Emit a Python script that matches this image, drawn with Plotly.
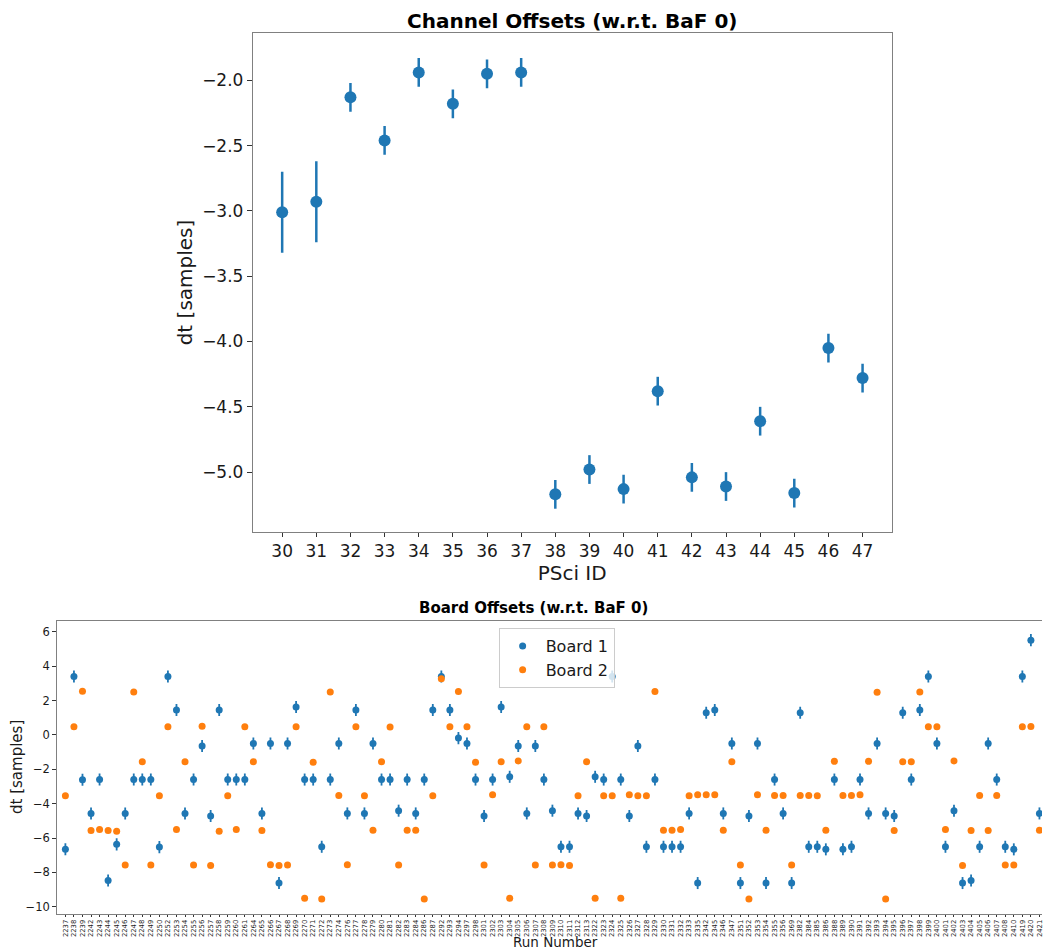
import plotly.graph_objects as go

# ---- Channel offsets per PSci channel ----
psci_id = [30, 31, 32, 33, 34, 35, 36, 37, 38, 39, 40, 41, 42, 43, 44, 45, 46, 47]
chan_dt = [-3.01, -2.93, -2.13, -2.46, -1.94, -2.18, -1.95, -1.94, -5.17,
           -4.98, -5.13, -4.38, -5.04, -5.11, -4.61, -5.16, -4.05, -4.28]
chan_err = [0.31, 0.31, 0.11, 0.11, 0.11, 0.11, 0.11, 0.11, 0.11,
            0.11, 0.11, 0.11, 0.11, 0.11, 0.11, 0.11, 0.11, 0.11]

# ---- Board offsets per run ----
runs = [2237, 2238, 2239, 2242, 2243, 2244, 2245, 2246, 2247, 2248,
        2249, 2250, 2252, 2253, 2254, 2255, 2256, 2257, 2258, 2259,
        2260, 2261, 2264, 2265, 2266, 2267, 2268, 2269, 2270, 2271,
        2272, 2273, 2274, 2276, 2277, 2278, 2279, 2280, 2281, 2282,
        2283, 2284, 2286, 2287, 2292, 2293, 2294, 2297, 2298, 2301,
        2302, 2303, 2304, 2305, 2306, 2307, 2308, 2309, 2310, 2311,
        2312, 2313, 2322, 2323, 2324, 2325, 2326, 2327, 2328, 2329,
        2330, 2331, 2332, 2333, 2335, 2342, 2345, 2346, 2347, 2351,
        2352, 2353, 2354, 2355, 2356, 2369, 2382, 2384, 2385, 2386,
        2388, 2389, 2390, 2391, 2392, 2393, 2394, 2395, 2396, 2397,
        2398, 2399, 2400, 2401, 2402, 2403, 2404, 2405, 2406, 2407,
        2408, 2410, 2419, 2420, 2421]

board1_dt = [-6.66, 3.40, -2.61, -4.57, -2.60, -8.47, -6.37, -4.57, -2.60, -2.60,
             -2.60, -6.53, 3.40, 1.44, -4.57, -2.60, -0.65, -4.72, 1.44, -2.60,
             -2.60, -2.60, -0.50, -4.57, -0.50, -8.62, -0.50, 1.62, -2.60, -2.60,
             -6.51, -2.60, -0.50, -4.57, 1.44, -4.57, -0.50, -2.60, -2.60, -4.41,
             -2.60, -4.57, -2.60, 1.44, 3.40, 1.44, -0.19, -0.50, -2.60, -4.72,
             -2.60, 1.62, -2.44, -0.65, -4.57, -0.65, -2.60, -4.41, -6.51, -6.51,
             -4.57, -4.72, -2.44, -2.60, 3.40, -2.60, -4.72, -0.65, -6.51, -2.60,
             -6.51, -6.51, -6.51, -4.57, -8.62, 1.29, 1.44, -4.57, -0.50, -8.62,
             -4.72, -0.50, -8.62, -2.60, -4.57, -8.62, 1.29, -6.51, -6.51, -6.66,
             -2.60, -6.66, -6.51, -2.60, -4.57, -0.50, -4.57, -4.72, 1.29, -2.60,
             1.44, 3.40, -0.50, -6.51, -4.41, -8.62, -8.47, -6.51, -0.50, -2.60,
             -6.51, -6.66, 3.40, 5.51, -4.57]
board1_err = [0.35, 0.35, 0.35, 0.35, 0.35, 0.35, 0.35, 0.35, 0.35, 0.35,
              0.35, 0.35, 0.35, 0.35, 0.35, 0.35, 0.35, 0.35, 0.35, 0.35,
              0.35, 0.35, 0.35, 0.35, 0.35, 0.35, 0.35, 0.35, 0.35, 0.35,
              0.35, 0.35, 0.35, 0.35, 0.35, 0.35, 0.35, 0.35, 0.35, 0.35,
              0.35, 0.35, 0.35, 0.35, 0.35, 0.35, 0.35, 0.35, 0.35, 0.35,
              0.35, 0.35, 0.35, 0.35, 0.35, 0.35, 0.35, 0.35, 0.35, 0.35,
              0.35, 0.35, 0.35, 0.35, 0.35, 0.35, 0.35, 0.35, 0.35, 0.35,
              0.35, 0.35, 0.35, 0.35, 0.35, 0.35, 0.35, 0.35, 0.35, 0.35,
              0.35, 0.35, 0.35, 0.35, 0.35, 0.35, 0.35, 0.35, 0.35, 0.35,
              0.35, 0.35, 0.35, 0.35, 0.35, 0.35, 0.35, 0.35, 0.35, 0.35,
              0.35, 0.35, 0.35, 0.35, 0.35, 0.35, 0.35, 0.35, 0.35, 0.35,
              0.35, 0.35, 0.35, 0.35, 0.35]

board2_dt = [-3.54, 0.47, 2.53, -5.56, -5.50, -5.56, -5.60, -7.57, 2.50, -1.56,
             -7.57, -3.54, 0.47, -5.50, -1.56, -7.57, 0.50, -7.60, -5.60, -3.54,
             -5.50, 0.47, -1.56, -5.56, -7.55, -7.60, -7.57, 0.47, -9.51, -1.60,
             -9.55, 2.50, -3.53, -7.55, 0.47, -3.54, -5.55, -1.56, 0.45, -7.57,
             -5.55, -5.55, -9.55, -3.54, 3.27, 0.47, 2.52, 0.47, -1.60, -7.57,
             -3.49, -1.56, -9.51, -1.52, 0.47, -7.57, 0.47, -7.57, -7.55, -7.60,
             -3.54, -1.56, -9.51, -3.54, -3.54, -9.51, -3.49, -3.54, -3.54, 2.52,
             -5.55, -5.55, -5.50, -3.54, -3.49, -3.49, -3.49, -5.55, -1.56, -7.57,
             -9.55, -3.49, -5.55, -3.53, -3.53, -7.57, -3.53, -3.53, -3.54, -5.55,
             -1.54, -3.53, -3.53, -3.48, -1.54, 2.48, -9.55, -5.56, -1.56, -1.56,
             2.50, 0.47, 0.47, -5.50, -1.52, -7.60, -5.56, -3.53, -5.56, -3.53,
             -7.57, -7.57, 0.47, 0.48, -5.55]
board2_err = [0.06, 0.06, 0.06, 0.06, 0.06, 0.06, 0.06, 0.06, 0.06, 0.06,
              0.06, 0.06, 0.06, 0.06, 0.06, 0.06, 0.06, 0.06, 0.06, 0.06,
              0.06, 0.06, 0.06, 0.06, 0.06, 0.06, 0.06, 0.06, 0.06, 0.06,
              0.06, 0.06, 0.06, 0.06, 0.06, 0.06, 0.06, 0.06, 0.06, 0.06,
              0.06, 0.06, 0.06, 0.06, 0.06, 0.06, 0.06, 0.06, 0.06, 0.06,
              0.06, 0.06, 0.06, 0.06, 0.06, 0.06, 0.06, 0.06, 0.06, 0.06,
              0.06, 0.06, 0.06, 0.06, 0.06, 0.06, 0.06, 0.06, 0.06, 0.06,
              0.06, 0.06, 0.06, 0.06, 0.06, 0.06, 0.06, 0.06, 0.06, 0.06,
              0.06, 0.06, 0.06, 0.06, 0.06, 0.06, 0.06, 0.06, 0.06, 0.06,
              0.06, 0.06, 0.06, 0.06, 0.06, 0.06, 0.06, 0.06, 0.06, 0.06,
              0.06, 0.06, 0.06, 0.06, 0.06, 0.06, 0.06, 0.06, 0.06, 0.06,
              0.06, 0.06, 0.06, 0.06, 0.06]

run_labels = [str(r) for r in runs]

BLUE = "#1f77b4"
ORANGE = "#ff7f0e"
FRAME = "#808080"
FONT = "DejaVu Sans"
W, H = 1044, 951


def px_x(x):
    return x / W


def px_y(y):
    return 1 - y / H


fig = go.Figure()

fig.add_trace(go.Scatter(
    x=psci_id, y=chan_dt, mode="markers", showlegend=False,
    marker=dict(color=BLUE, size=12),
    error_y=dict(type="data", array=chan_err, color=BLUE, thickness=2.5, width=0),
    xaxis="x", yaxis="y",
))

fig.add_trace(go.Scatter(
    x=run_labels, y=board1_dt, mode="markers", name="Board 1",
    marker=dict(color=BLUE, size=7),
    error_y=dict(type="data", array=board1_err, color=BLUE, thickness=1.8, width=0),
    xaxis="x2", yaxis="y2",
))
fig.add_trace(go.Scatter(
    x=run_labels, y=board2_dt, mode="markers", name="Board 2",
    marker=dict(color=ORANGE, size=7),
    error_y=dict(type="data", array=board2_err, color=ORANGE, thickness=1.8, width=0),
    xaxis="x2", yaxis="y2",
))

axis_common = dict(showline=True, linecolor=FRAME, linewidth=1, ticks="outside",
                   tickwidth=1, tickcolor="#333", showgrid=False, zeroline=False)

fig.update_layout(
    width=W, height=H,
    margin=dict(l=0, r=0, t=0, b=0),
    paper_bgcolor="white", plot_bgcolor="white",
    font=dict(family=FONT, color="#1a1a1a"),
    xaxis=dict(
        **axis_common, mirror=True, ticklen=4,
        domain=[px_x(253.3), px_x(893.3)],
        range=[29.14, 47.85], tickmode="linear", tick0=30, dtick=1,
        tickfont=dict(size=17),
        title=dict(text="PSci ID", font=dict(size=20), standoff=4),
        anchor="y",
    ),
    yaxis=dict(
        **axis_common, mirror=True, ticklen=5,
        domain=[px_y(531.7), px_y(33.3)],
        range=[-5.456, -1.64], tickmode="linear", tick0=-5.0, dtick=0.5,
        tickformat=".1f", tickfont=dict(size=17),
        title=dict(text="dt [samples]", font=dict(size=20), standoff=4),
        anchor="x",
    ),
    xaxis2=dict(
        **axis_common, mirror=True, ticklen=2,
        type="category", categoryorder="array", categoryarray=run_labels,
        domain=[px_x(57.3), 1.0],
        range=[-0.96, 114.3],
        tickmode="array", tickvals=run_labels, ticktext=run_labels,
        tickangle=-90, tickfont=dict(size=6.8),
        anchor="y2",
    ),
    yaxis2=dict(
        **axis_common, mirror=False, ticklen=4,
        domain=[px_y(914), px_y(620.7)],
        range=[-10.42, 6.64], tickmode="linear", tick0=-10, dtick=2,
        tickfont=dict(size=11.5),
        anchor="x2",
    ),
    legend=dict(
        x=px_x(557.7), xanchor="center", y=px_y(628), yanchor="top",
        bgcolor="rgba(255,255,255,0.8)", bordercolor="#cccccc", borderwidth=1,
        font=dict(size=16), tracegroupgap=0, itemwidth=36,
    ),
    annotations=[
        dict(text="<b>Channel Offsets (w.r.t. BaF 0)</b>", xref="paper", yref="paper",
             x=px_x(573.3), y=px_y(21), xanchor="center", yanchor="middle",
             showarrow=False, font=dict(size=20, color="black")),
        dict(text="<b>Board Offsets (w.r.t. BaF 0)</b>", xref="paper", yref="paper",
             x=px_x(535), y=px_y(608), xanchor="center", yanchor="middle",
             showarrow=False, font=dict(size=15, color="black")),
        # axis titles of the run-by-run panel
        dict(text="dt [samples]", xref="paper", yref="paper",
             x=px_x(17), y=px_y(767), xanchor="center", yanchor="middle",
             textangle=-90, showarrow=False, font=dict(size=15)),
        dict(text="Run Number", xref="paper", yref="paper",
             x=px_x(556.7), y=px_y(942), xanchor="center", yanchor="middle",
             showarrow=False, font=dict(size=13.5)),
    ],
)

fig.write_html("out.html")
